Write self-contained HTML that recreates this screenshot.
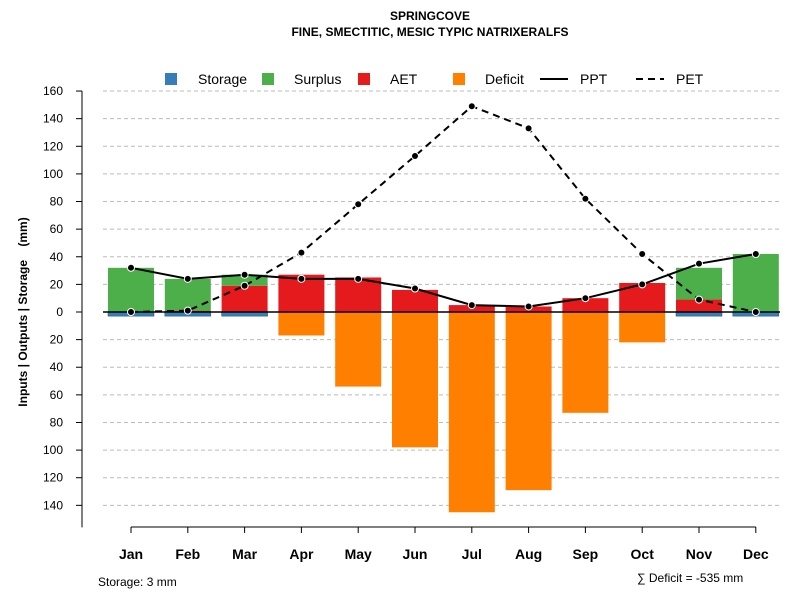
<!DOCTYPE html>
<html><head><meta charset="utf-8"><style>
body{margin:0;background:#fff;font-family:"Liberation Sans",Arial,sans-serif}
svg text{font-family:"Liberation Sans",Arial,sans-serif}
</style></head><body>
<svg id="c" width="800" height="600" xmlns="http://www.w3.org/2000/svg">
<text x="430" y="20" text-anchor="middle" font-size="12" font-weight="bold">SPRINGCOVE</text>
<text x="430" y="36" text-anchor="middle" font-size="12" font-weight="bold">FINE, SMECTITIC, MESIC TYPIC NATRIXERALFS</text>
<g id="grid"></g><g id="bars"></g><g id="lines"></g><g id="axes"></g>
<g font-size="14">
<rect x="165" y="73" width="12" height="12" fill="#377EB8"/><text x="198" y="84">Storage</text>
<rect x="262" y="73" width="12" height="12" fill="#4DAF4A"/><text x="294" y="84">Surplus</text>
<rect x="358" y="73" width="12" height="12" fill="#E41A1C"/><text x="390" y="84">AET</text>
<rect x="453" y="73" width="12" height="12" fill="#FF7F00"/><text x="485" y="84">Deficit</text>
<line x1="540" y1="79" x2="568" y2="79" stroke="#000" stroke-width="2"/><text x="580" y="84">PPT</text>
<line x1="636" y1="79" x2="664" y2="79" stroke="#000" stroke-width="2" stroke-dasharray="7,5"/><text x="676" y="84">PET</text>
</g>
<text transform="translate(27,312) rotate(-90)" text-anchor="middle" font-size="12" font-weight="bold">Inputs | Outputs | Storage &#160;&#160;&#160;(mm)</text>
<text x="98" y="586" font-size="12">Storage: 3 mm</text>
<text x="637" y="582" font-size="12">∑ Deficit = -535 mm</text>
</svg>
<script>
const months=["Jan","Feb","Mar","Apr","May","Jun","Jul","Aug","Sep","Oct","Nov","Dec"];
const ppt=[32,24,27,24,24,17,5,4,10,20,35,42];
const pet=[0,1,19,43,78,113,149,133,82,42,9,0];
const aet=[0,1,19,27,25,16,5,4,10,21,9,0];
const surplus=[32,23,8,0,0,0,0,0,0,0,23,42];
const deficit=[0,0,0,17,54,98,145,129,73,22,0,0];
const storage=[3,3,3,0,0,0,0,0,0,0,3,3];
const ticksPos=[0,20,40,60,80,100,120,140,160];
const ticksNeg=[20,40,60,80,100,120,140];
const NS="http://www.w3.org/2000/svg";
const y=v=>312-v*1.381;
const x=i=>131+i*56.8;
const BW=46;
function mk(p,t,a){const e=document.createElementNS(NS,t);for(const k in a)e.setAttribute(k,a[k]);document.getElementById(p).appendChild(e);return e;}
ticksPos.concat(ticksNeg.map(v=>-v)).forEach(v=>{
 if(v!==0){const g=mk('grid','line',{x1:103,x2:780,y1:y(v),y2:y(v),stroke:'#bbb','stroke-dasharray':'4,3'});
 
 }
 const t=mk('axes','line',{x1:76,x2:82,y1:y(v),y2:y(v),stroke:'#000'});
 
 
 const l=mk('axes','text',{x:63,y:y(v)+4,'text-anchor':'end','font-size':12});
 l.textContent=Math.abs(v);
 
 
});
months.forEach((m,i)=>{
 const cx=x(i),x0=cx-BW/2;
 if(aet[i]>0){const r=mk('bars','rect',{x:x0,y:y(aet[i]),width:BW,height:aet[i]*1.381,fill:'#E41A1C'});
 
 }
 if(surplus[i]>0){const r=mk('bars','rect',{x:x0,y:y(aet[i]+surplus[i]),width:BW,height:surplus[i]*1.381,fill:'#4DAF4A'});
 
 }
 if(deficit[i]>0){const r=mk('bars','rect',{x:x0,y:312,width:BW,height:deficit[i]*1.381,fill:'#FF7F00'});
 
 }
 if(storage[i]>0){const r=mk('bars','rect',{x:x0,y:312,width:BW,height:storage[i]*1.381,fill:'#377EB8',stroke:'#1f4f7a','stroke-width':0.5});
 
 }
 const t=mk('axes','line',{x1:cx,x2:cx,y1:527,y2:533,stroke:'#000'});
 
 
 const l=mk('axes','text',{x:cx,y:559,'text-anchor':'middle','font-size':14,'font-weight':'bold'});
 l.textContent=m;
 
 
});
const zl=mk('lines','line',{x1:103,x2:780,y1:312,y2:312,stroke:'#000','stroke-width':1.5});


const ya=mk('axes','line',{x1:82,x2:82,y1:y(160),y2:y(-140)+22,stroke:'#000'});


const xa=mk('axes','line',{x1:x(0),x2:x(11),y1:527,y2:527,stroke:'#000'});


[[ppt,'',"ppt"],[pet,'7,5',"pet"]].forEach(([d,da,n])=>{
 const p=mk('lines','polyline',{points:d.map((v,i)=>x(i)+','+y(v)).join(' '),fill:'none',stroke:'#000','stroke-width':2,'stroke-dasharray':da});
 
 
 d.forEach((v,i)=>{const c=mk('lines','circle',{cx:x(i),cy:y(v),r:3.5,fill:'#000',stroke:'#fff','stroke-width':1});
 
 });
});
</script>
</body></html>
